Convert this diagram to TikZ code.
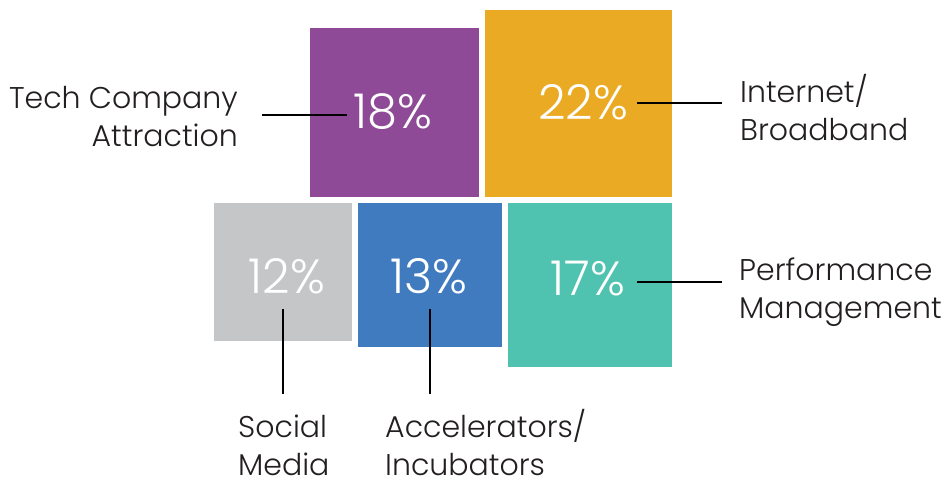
\documentclass[tikz,border=0pt]{standalone}
\usepackage{fontspec}
\setmainfont{Poppins Light}
\definecolor{cpurple}{HTML}{8E4A97}
\definecolor{corange}{HTML}{EBAA23}
\definecolor{cgray}{HTML}{C5C6C8}
\definecolor{cblue}{HTML}{417BBF}
\definecolor{cteal}{HTML}{50C3B0}
\definecolor{ctext}{HTML}{231F20}
\tikzset{
  box/.style={draw=none, inner sep=0pt, outer sep=0pt},
  pct/.style={text=white, inner sep=0pt, font={\fontsize{48}{52}\selectfont}},
  lab/.style={text=ctext, inner sep=0pt, font={\fontsize{30}{38}\selectfont}},
  leader/.style={draw=black, line width=1.4pt}
}
\begin{document}
\begin{tikzpicture}[x=1pt,y=-1pt]
\useasboundingbox (0,0) rectangle (948,477);
% boxes
\node[box, fill=cpurple, minimum width=169pt, minimum height=169pt, anchor=north west] (bpurple) at (310,28) {};
\node[box, fill=corange, minimum width=187pt, minimum height=187pt, anchor=north west] (borange) at (485,10) {};
\node[box, fill=cgray, minimum width=138pt, minimum height=138pt, anchor=north west] (bgray) at (214,203) {};
\node[box, fill=cblue, minimum width=144pt, minimum height=144pt, anchor=north west] (bblue) at (358,203) {};
\node[box, fill=cteal, minimum width=164pt, minimum height=164pt, anchor=north west] (bteal) at (508,203) {};
% percentages
\node[pct, anchor=base] (p18) at (393,128) {18\%};
\node[pct, anchor=base] (p22) at (583,119) {22\%};
\node[pct, anchor=base] (p12) at (287,293) {12\%};
\node[pct, anchor=base] (p13) at (429,293) {13\%};
\node[pct, anchor=base] (p17) at (588,295) {17\%};
% labels (one node per printed line)
\node[lab, anchor=base east] (ltecha) at (238,108) {Tech Company};
\node[lab, anchor=base east] (ltechb) at (238,146) {Attraction};
\node[lab, anchor=base west] (linta) at (740,102) {Internet/};
\node[lab, anchor=base west] (lintb) at (740,140) {Broadband};
\node[lab, anchor=base west] (lperfa) at (739,280) {Performance};
\node[lab, anchor=base west] (lperfb) at (739,318) {Management};
\node[lab, anchor=base west] (lsoca) at (238,437) {Social};
\node[lab, anchor=base west] (lsocb) at (238,475) {Media};
\node[lab, anchor=base west] (lacca) at (385,437) {Accelerators/};
\node[lab, anchor=base west] (laccb) at (385,475) {Incubators};
% leader lines
\coordinate (t1) at (262,115); \coordinate (t2) at (347,115);
\coordinate (i1) at (637,103); \coordinate (i2) at (722,103);
\coordinate (f1) at (637,282); \coordinate (f2) at (722,282);
\coordinate (s1) at (283,309); \coordinate (s2) at (283,394);
\coordinate (a1) at (430,309); \coordinate (a2) at (430,394);
\draw[leader] (t1) -- (t2);
\draw[leader] (i1) -- (i2);
\draw[leader] (f1) -- (f2);
\draw[leader] (s1) -- (s2);
\draw[leader] (a1) -- (a2);
\end{tikzpicture}
\end{document}
